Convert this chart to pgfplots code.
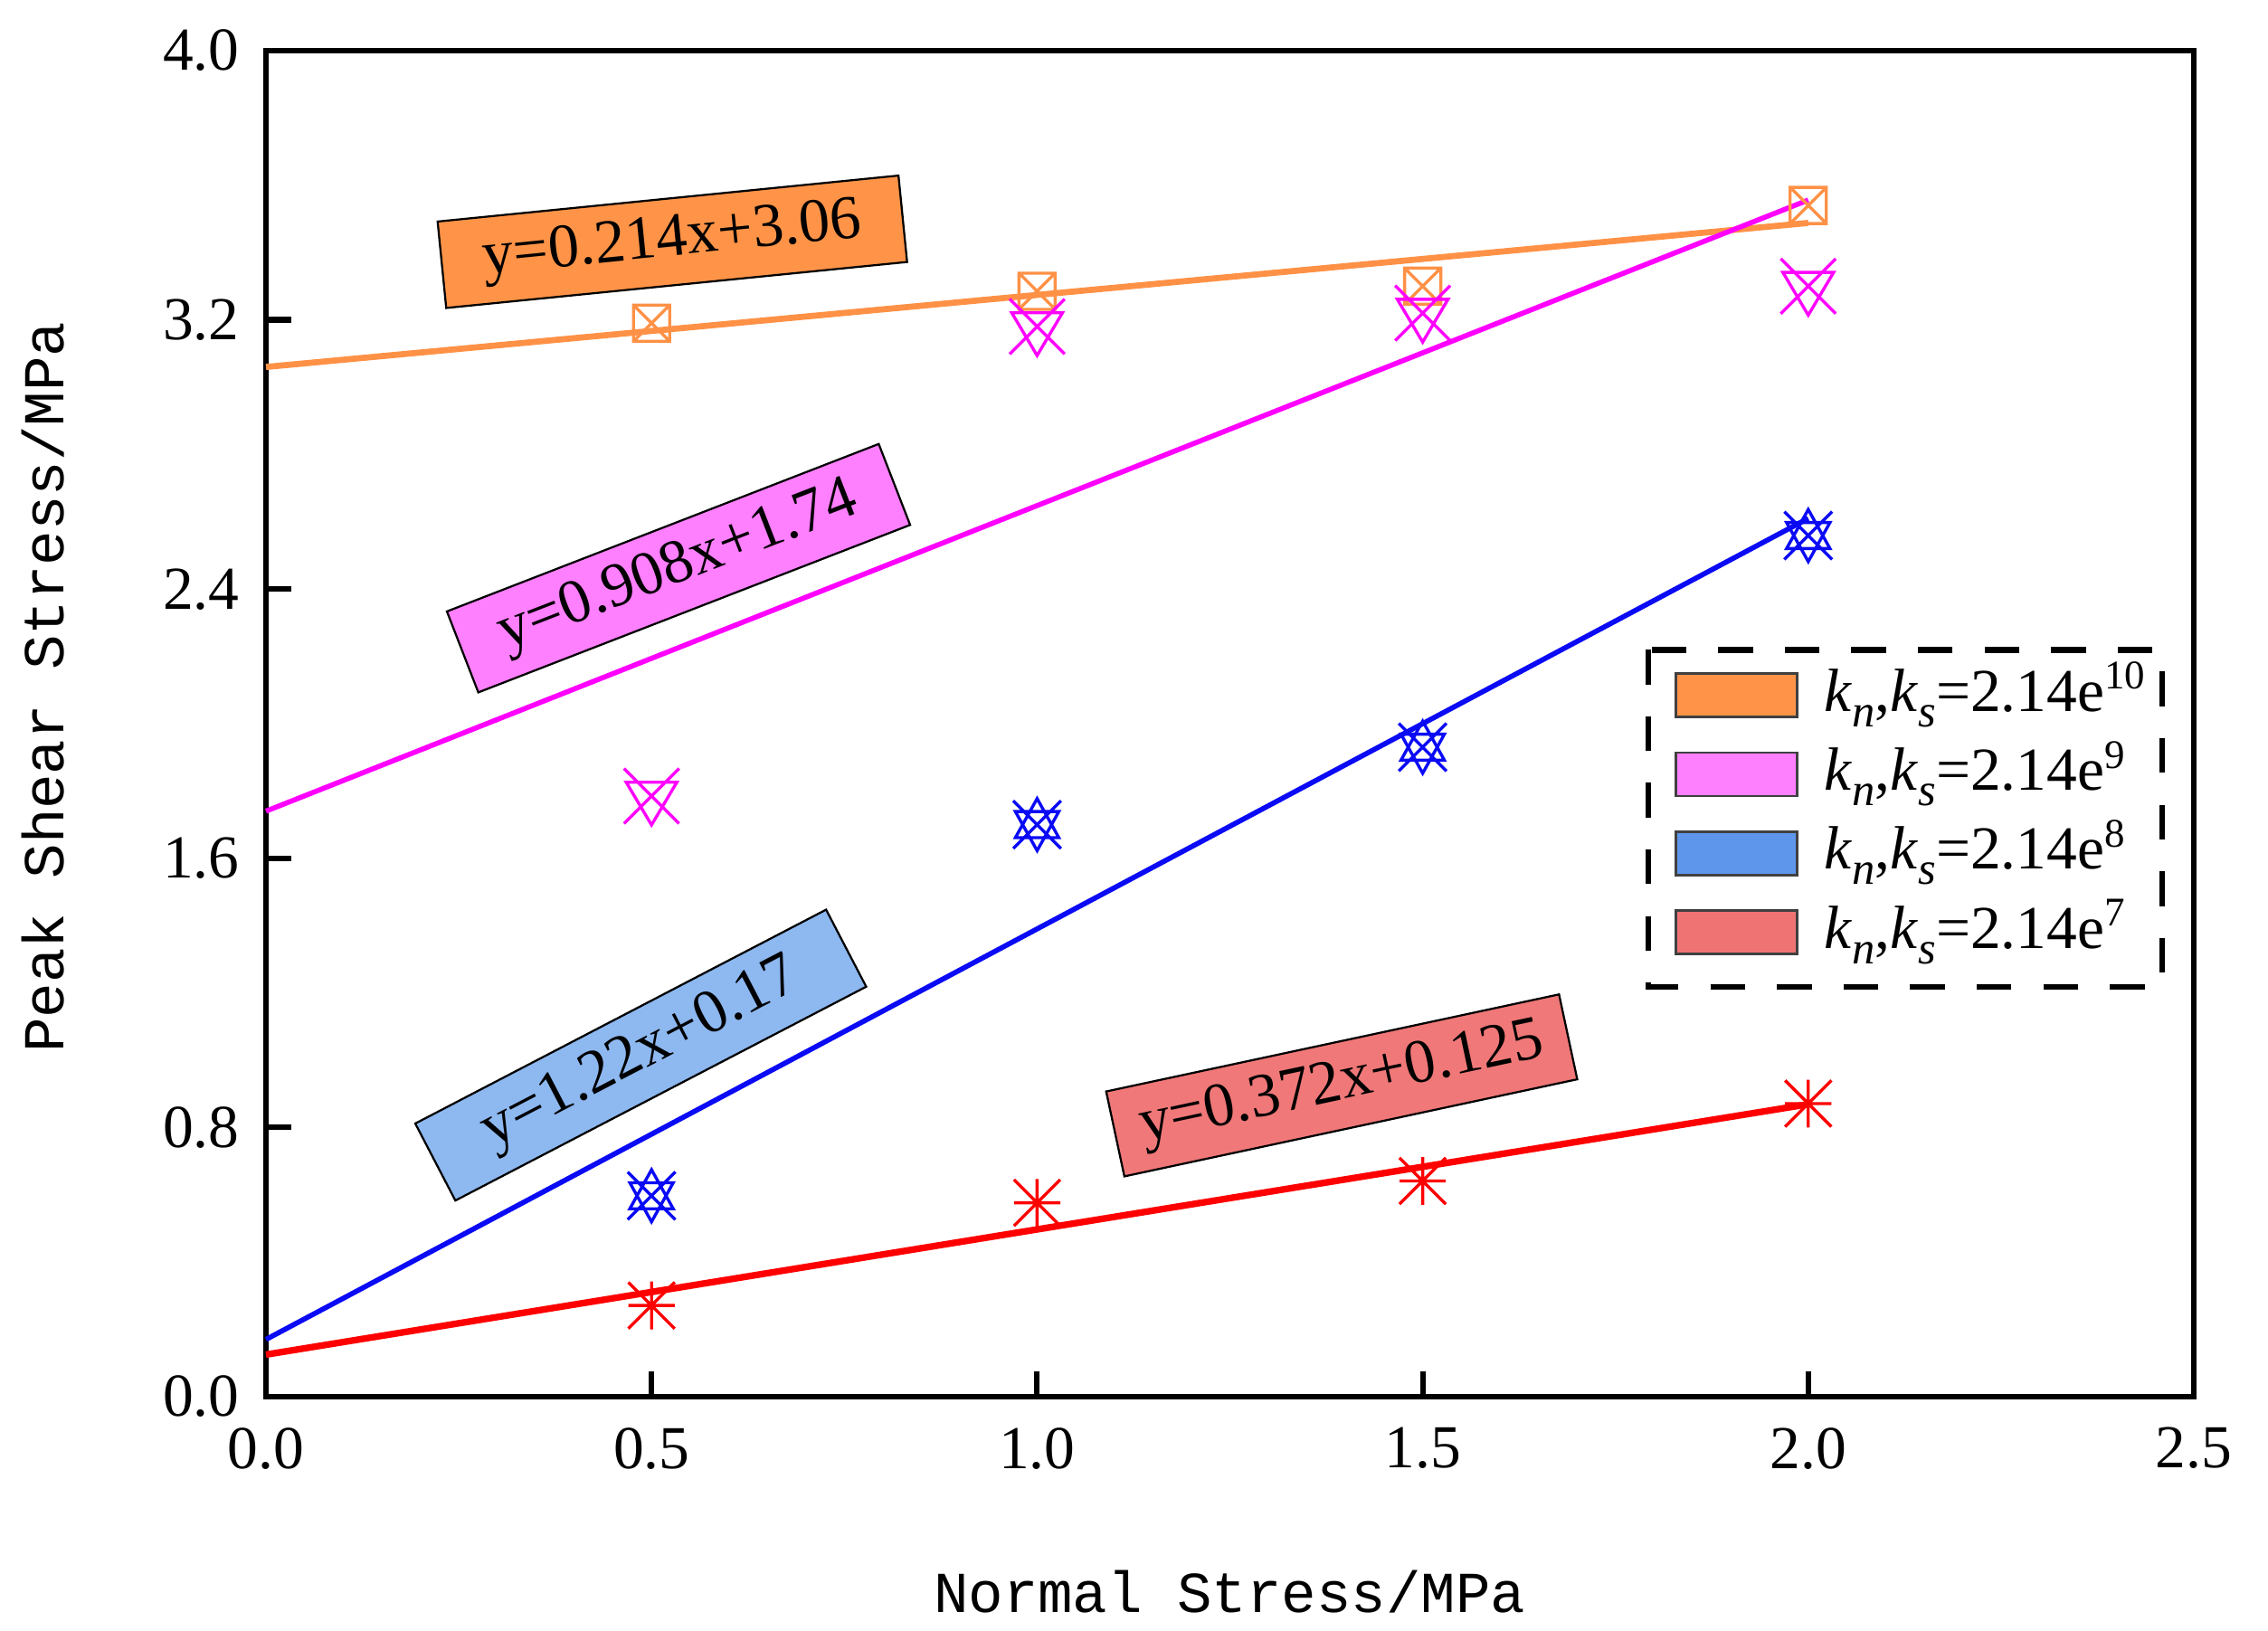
\documentclass[border=0pt]{standalone}
\usepackage{fontspec}
\setmainfont{Liberation Serif}
\newfontfamily\monofont{Liberation Mono}
\usepackage{pgfplots}
\pgfplotsset{compat=1.18}

\definecolor{cOr}{RGB}{255,145,70}
\definecolor{cMa}{RGB}{255,0,255}
\definecolor{cBl}{RGB}{10,10,245}
\definecolor{cRe}{RGB}{255,0,0}
\definecolor{fOr}{RGB}{255,148,72}
\definecolor{fMa}{RGB}{255,128,255}
\definecolor{fBl}{RGB}{94,150,235}
\definecolor{fRe}{RGB}{240,115,115}
\definecolor{bBl}{RGB}{142,184,240}
\definecolor{bRe}{RGB}{240,120,120}

\pgfdeclareplotmark{boxx}{%
  \pgfpathrectangle{\pgfqpoint{-1.25mm}{-1.25mm}}{\pgfqpoint{2.5mm}{2.5mm}}%
  \pgfpathmoveto{\pgfqpoint{-1.25mm}{1.25mm}}\pgfpathlineto{\pgfqpoint{1.25mm}{-1.25mm}}%
  \pgfpathmoveto{\pgfqpoint{1.25mm}{1.25mm}}\pgfpathlineto{\pgfqpoint{-1.25mm}{-1.25mm}}%
  \pgfusepathqstroke}
\pgfdeclareplotmark{hgx}{%
  \pgfpathmoveto{\pgfqpoint{-1.9mm}{1.9mm}}\pgfpathlineto{\pgfqpoint{1.9mm}{-1.9mm}}%
  \pgfpathmoveto{\pgfqpoint{1.9mm}{1.9mm}}\pgfpathlineto{\pgfqpoint{-1.9mm}{-1.9mm}}%
  \pgfpathmoveto{\pgfqpoint{-1.75mm}{0.95mm}}\pgfpathlineto{\pgfqpoint{1.75mm}{0.95mm}}%
  \pgfpathlineto{\pgfqpoint{0mm}{-2mm}}\pgfpathclose
  \pgfusepathqstroke}
\pgfdeclareplotmark{starx}{%
  \pgfpathmoveto{\pgfqpoint{-1.65mm}{1.65mm}}\pgfpathlineto{\pgfqpoint{1.65mm}{-1.65mm}}%
  \pgfpathmoveto{\pgfqpoint{1.65mm}{1.65mm}}\pgfpathlineto{\pgfqpoint{-1.65mm}{-1.65mm}}%
  \pgfpathmoveto{\pgfqpoint{0mm}{1.8mm}}\pgfpathlineto{\pgfqpoint{-1.5mm}{-0.9mm}}%
  \pgfpathlineto{\pgfqpoint{1.5mm}{-0.9mm}}\pgfpathclose
  \pgfpathmoveto{\pgfqpoint{0mm}{-1.8mm}}\pgfpathlineto{\pgfqpoint{-1.5mm}{0.9mm}}%
  \pgfpathlineto{\pgfqpoint{1.5mm}{0.9mm}}\pgfpathclose
  \pgfusepathqstroke}
\pgfdeclareplotmark{ast8}{%
  \pgfpathmoveto{\pgfqpoint{-1.6mm}{1.6mm}}\pgfpathlineto{\pgfqpoint{1.6mm}{-1.6mm}}%
  \pgfpathmoveto{\pgfqpoint{1.6mm}{1.6mm}}\pgfpathlineto{\pgfqpoint{-1.6mm}{-1.6mm}}%
  \pgfpathmoveto{\pgfqpoint{0mm}{1.65mm}}\pgfpathlineto{\pgfqpoint{0mm}{-1.65mm}}%
  \pgfpathmoveto{\pgfqpoint{-1.6mm}{0mm}}\pgfpathlineto{\pgfqpoint{1.6mm}{0mm}}%
  \pgfusepathqstroke}

\newcommand{\sub}[1]{\raisebox{-0.55ex}{\fontsize{9}{9}\selectfont\textit{#1}}}
\newcommand{\kk}[1]{\textit{k}\sub{n},\textit{k}\sub{s}=2.14e\textsuperscript{#1}}

\begin{document}
\begin{tikzpicture}
\begin{axis}[
  scale only axis,
  width=133.19mm, height=93.0mm,
  xmin=0, xmax=2.5, ymin=0, ymax=4.0,
  xtick={0,0.5,1.0,1.5,2.0,2.5},
  ytick={0,0.8,1.6,2.4,3.2,4.0},
  tick pos=left,
  tick align=inside,
  major tick length=1.75mm,
  minor tick num=0,
  axis line style={line width=1.1pt, black},
  every tick/.style={line width=1.1pt, black},
  /pgf/number format/.cd, fixed, fixed zerofill, precision=1, assume math mode=true,
  /pgfplots/.cd,
  ticklabel style={font=\fontsize{12}{14}\selectfont},
  xticklabel style={yshift=-0.9mm},
  yticklabel style={xshift=-0.6mm},
  xlabel={Normal Stress/MPa},
  ylabel={Peak Shear Stress/MPa},
  xlabel style={font=\monofont\fontsize{11.4}{13}\selectfont, at={(axis description cs:0.4998,-0.145)}, anchor=center},
  ylabel style={font=\monofont\fontsize{11.4}{13}\selectfont, at={(axis description cs:-0.1154,0.527)}, anchor=center, rotate=0},
  clip=false,
  legend cell align=left,
  legend style={at={(axis description cs:0.717,0.555)}, anchor=north west, draw=none, fill=none,
    inner xsep=1.75mm, inner ysep=0.9mm, row sep=1.05mm, column sep=1.75mm,
    font=\fontsize{12}{14}\selectfont,
    nodes={inner sep=0pt, text height=3.3mm, text depth=1.1mm}},
]
% legend entries
\addlegendimage{legend image code/.code={\draw[fill=fOr, draw=black!75, line width=0.5pt, solid] (0mm,-1.5mm) rectangle (8.4mm,1.5mm);}}
\addlegendentry{\kk{10}}
\addlegendimage{legend image code/.code={\draw[fill=fMa, draw=black!75, line width=0.5pt, solid] (0mm,-1.5mm) rectangle (8.4mm,1.5mm);}}
\addlegendentry{\kk{9}}
\addlegendimage{legend image code/.code={\draw[fill=fBl, draw=black!75, line width=0.5pt, solid] (0mm,-1.5mm) rectangle (8.4mm,1.5mm);}}
\addlegendentry{\kk{8}}
\addlegendimage{legend image code/.code={\draw[fill=fRe, draw=black!75, line width=0.5pt, solid] (0mm,-1.5mm) rectangle (8.4mm,1.5mm);}}
\addlegendentry{\kk{7}}

% fitted lines
\addplot[cOr, line width=1.2pt, forget plot] coordinates {(0,3.06) (2,3.488)};
\addplot[cMa, line width=1.0pt, forget plot] coordinates {(0,1.74) (2,3.556)};
\addplot[cBl, line width=1.0pt, forget plot] coordinates {(0,0.17) (2,2.61)};
\addplot[cRe, line width=1.3pt, forget plot] coordinates {(0,0.125) (2,0.869)};

% data points
\addplot[only marks, cOr, mark=boxx, mark options={solid, line width=0.6pt}, forget plot]
  coordinates {(0.5,3.19) (1.0,3.285) (1.5,3.30) (2.0,3.54)};
\addplot[only marks, cMa, mark=hgx, mark options={solid, line width=0.6pt}, forget plot]
  coordinates {(0.5,1.785) (1.0,3.18) (1.5,3.22) (2.0,3.30)};
\addplot[only marks, cBl, mark=starx, mark options={solid, line width=0.6pt}, forget plot]
  coordinates {(0.5,0.597) (1.0,1.70) (1.5,1.93) (2.0,2.559)};
\addplot[only marks, cRe, mark=ast8, mark options={solid, line width=0.6pt}, forget plot]
  coordinates {(0.5,0.271) (1.0,0.576) (1.5,0.641) (2.0,0.871)};

% equation boxes
\tikzset{eqbox/.style={draw=black, line width=0.4pt, minimum width=32mm, minimum height=6mm, inner sep=0pt, font=\fontsize{12.2}{14}\selectfont}}
\node[eqbox, fill=fOr, rotate=5.7] at (axis cs:0.527,3.432) {y=0.214x+3.06};
\node[eqbox, fill=fMa, rotate=21.2] at (axis cs:0.535,2.462) {y=0.908x+1.74};
\node[eqbox, fill=bBl, rotate=27.5] at (axis cs:0.486,1.015) {y=1.22x+0.17};
\node[eqbox, fill=bRe, rotate=12.1] at (axis cs:1.395,0.925) {y=0.372x+0.125};

% legend frame
\draw[line width=1.2pt, dash pattern=on 2.4mm off 2.2mm] (axis description cs:0.717,0.555) rectangle (axis description cs:0.9836,0.3044);
\end{axis}
\path (current axis.south west) ++(-18.375mm,-16.19mm) coordinate (bbl);
\path (current axis.north east) ++(5.125mm,3.5mm) coordinate (btr);
\pgfresetboundingbox
\useasboundingbox (bbl) rectangle (btr);
\end{tikzpicture}
\end{document}
